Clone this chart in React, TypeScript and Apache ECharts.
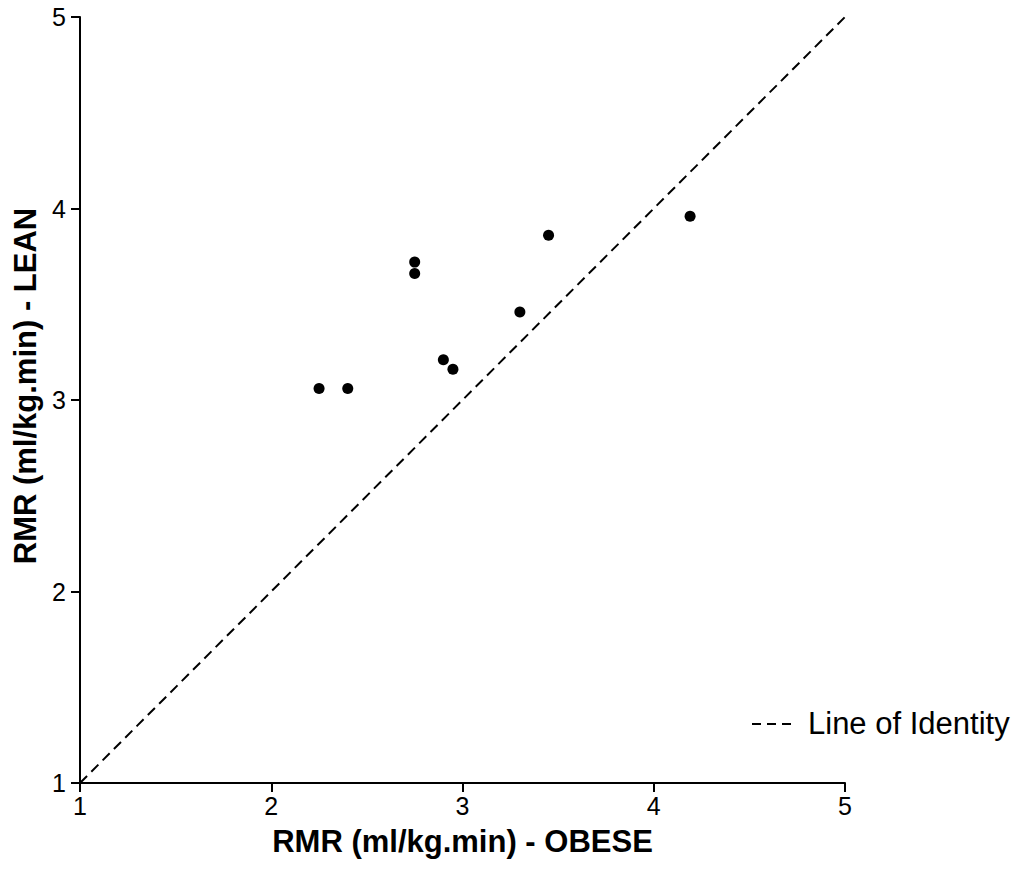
import React, { useEffect, useRef } from "react";
import * as echarts from "echarts";

const obese = [2.25, 2.4, 2.75, 2.75, 2.9, 2.95, 3.3, 3.45, 4.19];
const lean = [3.06, 3.06, 3.72, 3.66, 3.21, 3.16, 3.46, 3.86, 3.96];
const identity = [
  [1, 1],
  [5, 5],
];
const ticks = [1, 2, 3, 4, 5];
const legendLabel = "Line of Identity";

export default function App() {
  const ref = useRef<HTMLDivElement>(null);
  useEffect(() => {
    const chart = echarts.init(ref.current!, null, { renderer: "svg" });
    const font = "Arial, 'Liberation Sans', sans-serif";
    const axisCommon = {
      type: "value",
      min: ticks[0],
      max: ticks[ticks.length - 1],
      interval: 1,
      splitLine: { show: false },
      axisLine: { show: true, lineStyle: { color: "#000", width: 2 } },
      axisTick: { show: true, inside: false, length: 9, lineStyle: { color: "#000", width: 2 } },
      nameLocation: "middle",
    };
    chart.setOption({
      animation: false,
      backgroundColor: "#fff",
      grid: { left: 80, right: 185, top: 17, bottom: 100 },
      xAxis: {
        ...axisCommon,
        axisLabel: { color: "#000", fontSize: 25, fontFamily: font, margin: 10 },
        name: "RMR (ml/kg.min) - OBESE",
        nameGap: 43,
        nameTextStyle: { color: "#000", fontSize: 31, fontWeight: "bold", fontFamily: font },
      },
      yAxis: {
        ...axisCommon,
        axisLabel: { color: "#000", fontSize: 25, fontFamily: font, margin: 14 },
        name: "RMR (ml/kg.min) - LEAN",
        nameGap: 37,
        nameTextStyle: {
          color: "#000",
          fontSize: 31,
          fontWeight: "bold",
          fontFamily: font,
          padding: [0, 0, 0, 28],
        },
      },
      graphic: [
        {
          type: "line",
          shape: { x1: 752, y1: 724, x2: 797, y2: 724 },
          style: { stroke: "#000", lineWidth: 2, lineDash: [9, 6] },
        },
        {
          type: "text",
          left: 808,
          top: 708,
          style: { text: legendLabel, fill: "#000", font: `31px ${font}` },
        },
      ],
      series: [
        {
          name: legendLabel,
          type: "line",
          data: identity,
          symbol: "none",
          lineStyle: { color: "#000", width: 2, type: [10, 6] },
          itemStyle: { color: "#000" },
        },
        {
          name: "points",
          type: "scatter",
          data: obese.map((x, i) => [x, lean[i]]),
          symbol: "circle",
          symbolSize: 11,
          itemStyle: { color: "#000", opacity: 1 },
        },
      ],
    });
    return () => chart.dispose();
  }, []);
  return <div ref={ref} style={{ width: 1030, height: 883, position: "absolute", left: 0, top: 0 }} />;
}
